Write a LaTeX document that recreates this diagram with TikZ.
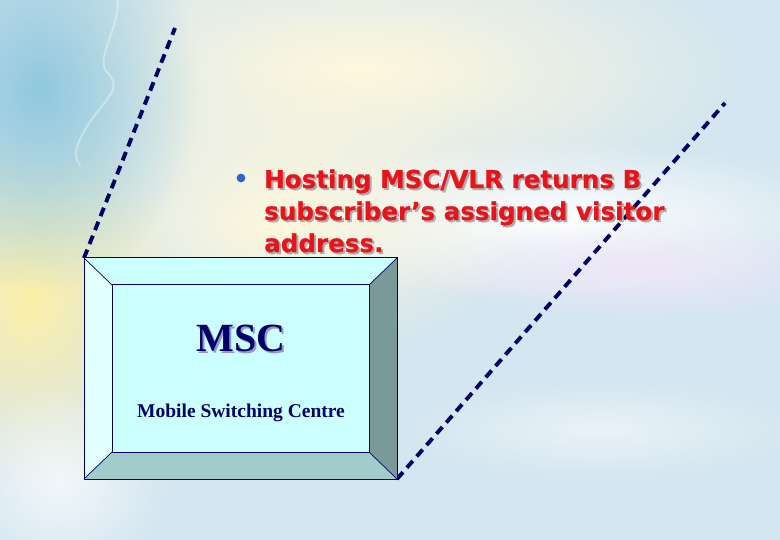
\documentclass[tikz,border=0pt]{standalone}
\usepackage{fontspec}
\setmainfont{Liberation Serif}
\newfontfamily\bulletfont{DejaVu Sans Bold}[FakeBold=0.6]
\usetikzlibrary{fadings}
\tikzfading[name=softfade, inner color=transparent!0, outer color=transparent!100]
\definecolor{bgblue}{HTML}{D4E6F0}
\definecolor{navyline}{HTML}{000066}
\definecolor{redtext}{HTML}{E8141C}
\definecolor{faceC}{HTML}{CCFFFF}
\definecolor{leftC}{HTML}{E2FFFF}
\definecolor{rightC}{HTML}{7A9A9A}
\definecolor{bottomC}{HTML}{A2CCCC}
\definecolor{bulletC}{HTML}{3366CC}
\definecolor{skyC}{HTML}{90C8DE}
\definecolor{creamC}{HTML}{FFF8DC}
\definecolor{yellowC}{HTML}{FCEFA8}
\definecolor{lilacC}{HTML}{EEE6F8}
\tikzset{
  dashline/.style={draw=navyline, line width=3.9pt, dash pattern=on 9pt off 6pt},
  bevel/.style={draw=navyline, line width=1pt},
  edgeline/.style={draw=navyline, line width=0.7pt},
  redline/.style={font=\bulletfont\fontsize{24.6}{32}\selectfont, text=redtext, anchor=base west, inner sep=0pt},
  shadowline/.style={font=\bulletfont\fontsize{24.6}{32}\selectfont, text=gray!65, anchor=base west, inner sep=0pt},
  blob/.style={path fading=softfade},
}
\begin{document}
\begin{tikzpicture}[x=1pt,y=-1pt]
\useasboundingbox (0,0) rectangle (780,540);
% background
\fill[bgblue] (0,0) rectangle (780,540);
\fill[creamC, blob] (360,70) ellipse (380 and 140);
\fill[white, blob] (560,220) ellipse (300 and 80);
\fill[lilacC, blob] (640,270) ellipse (220 and 50);
\fill[creamC, blob] (280,220) ellipse (250 and 140);
\fill[yellowC, blob] (30,300) ellipse (150 and 190);
\fill[skyC, blob] (40,90) ellipse (160 and 200);
\fill[white, opacity=0.7, blob] (60,480) ellipse (110 and 100);
\fill[white, opacity=0.5, blob] (600,430) ellipse (200 and 50);
% face-like silhouette edge
\draw[white, line width=2pt, opacity=0.35, line cap=round]
  (118,0) .. controls (118,30) and (98,55) .. (105,70)
  .. controls (120,85) and (115,90) .. (95,115)
  .. controls (80,135) and (70,155) .. (80,165);
% coordinates
\coordinate (oTL) at (84,258);
\coordinate (oTR) at (397,258);
\coordinate (oBR) at (397,479);
\coordinate (oBL) at (84,479);
\coordinate (iTL) at (112,285);
\coordinate (iTR) at (369,285);
\coordinate (iBR) at (369,452);
\coordinate (iBL) at (112,452);
\coordinate (topL) at (175,28);
\coordinate (topR) at (725,103);
% dashed lines
\draw[dashline] (oTL) -- (topL);
\draw[dashline] (oBR) -- (topR);
% bevels
\fill[leftC] (oTL) -- (iTL) -- (iBL) -- (oBL) -- cycle;
\fill[faceC] (oTL) -- (oTR) -- (iTR) -- (iTL) -- cycle;
\fill[rightC] (oTR) -- (oBR) -- (iBR) -- (iTR) -- cycle;
\fill[bottomC] (oBL) -- (iBL) -- (iBR) -- (oBR) -- cycle;
\fill[faceC] (iTL) rectangle (iBR);
\draw[edgeline] (oTL) -- (iTL) (oTR) -- (iTR) (oBR) -- (iBR) (oBL) -- (iBL);
\draw[bevel] (iTL) rectangle (iBR);
\draw[bevel] (oTL) rectangle (oBR);
% box text
\node[text=gray!60!blue!60, font=\bfseries\fontsize{40}{40}\selectfont, inner sep=0pt] at (243,340) {MSC};
\node (msc) [text=navyline, font=\bfseries\fontsize{40}{40}\selectfont, inner sep=0pt] at (241,338) {MSC};
\node (msc2) [text=navyline, font=\bfseries\fontsize{19.5}{20}\selectfont, inner sep=0pt] at (241,413) {Mobile Switching Centre};
% bullet text
\fill[bulletC] (241,178) circle (4.4);
\node[shadowline] at (266,190) {Hosting MSC/VLR returns B};
\node[shadowline] at (266,222) {subscriber’s assigned visitor};
\node[shadowline] at (266,254) {address.};
\node (l1) [redline] at (264,188) {Hosting MSC/VLR returns B};
\node (l2) [redline] at (264,220) {subscriber’s assigned visitor};
\node (l3) [redline] at (264,252) {address.};
\end{tikzpicture}
\end{document}
